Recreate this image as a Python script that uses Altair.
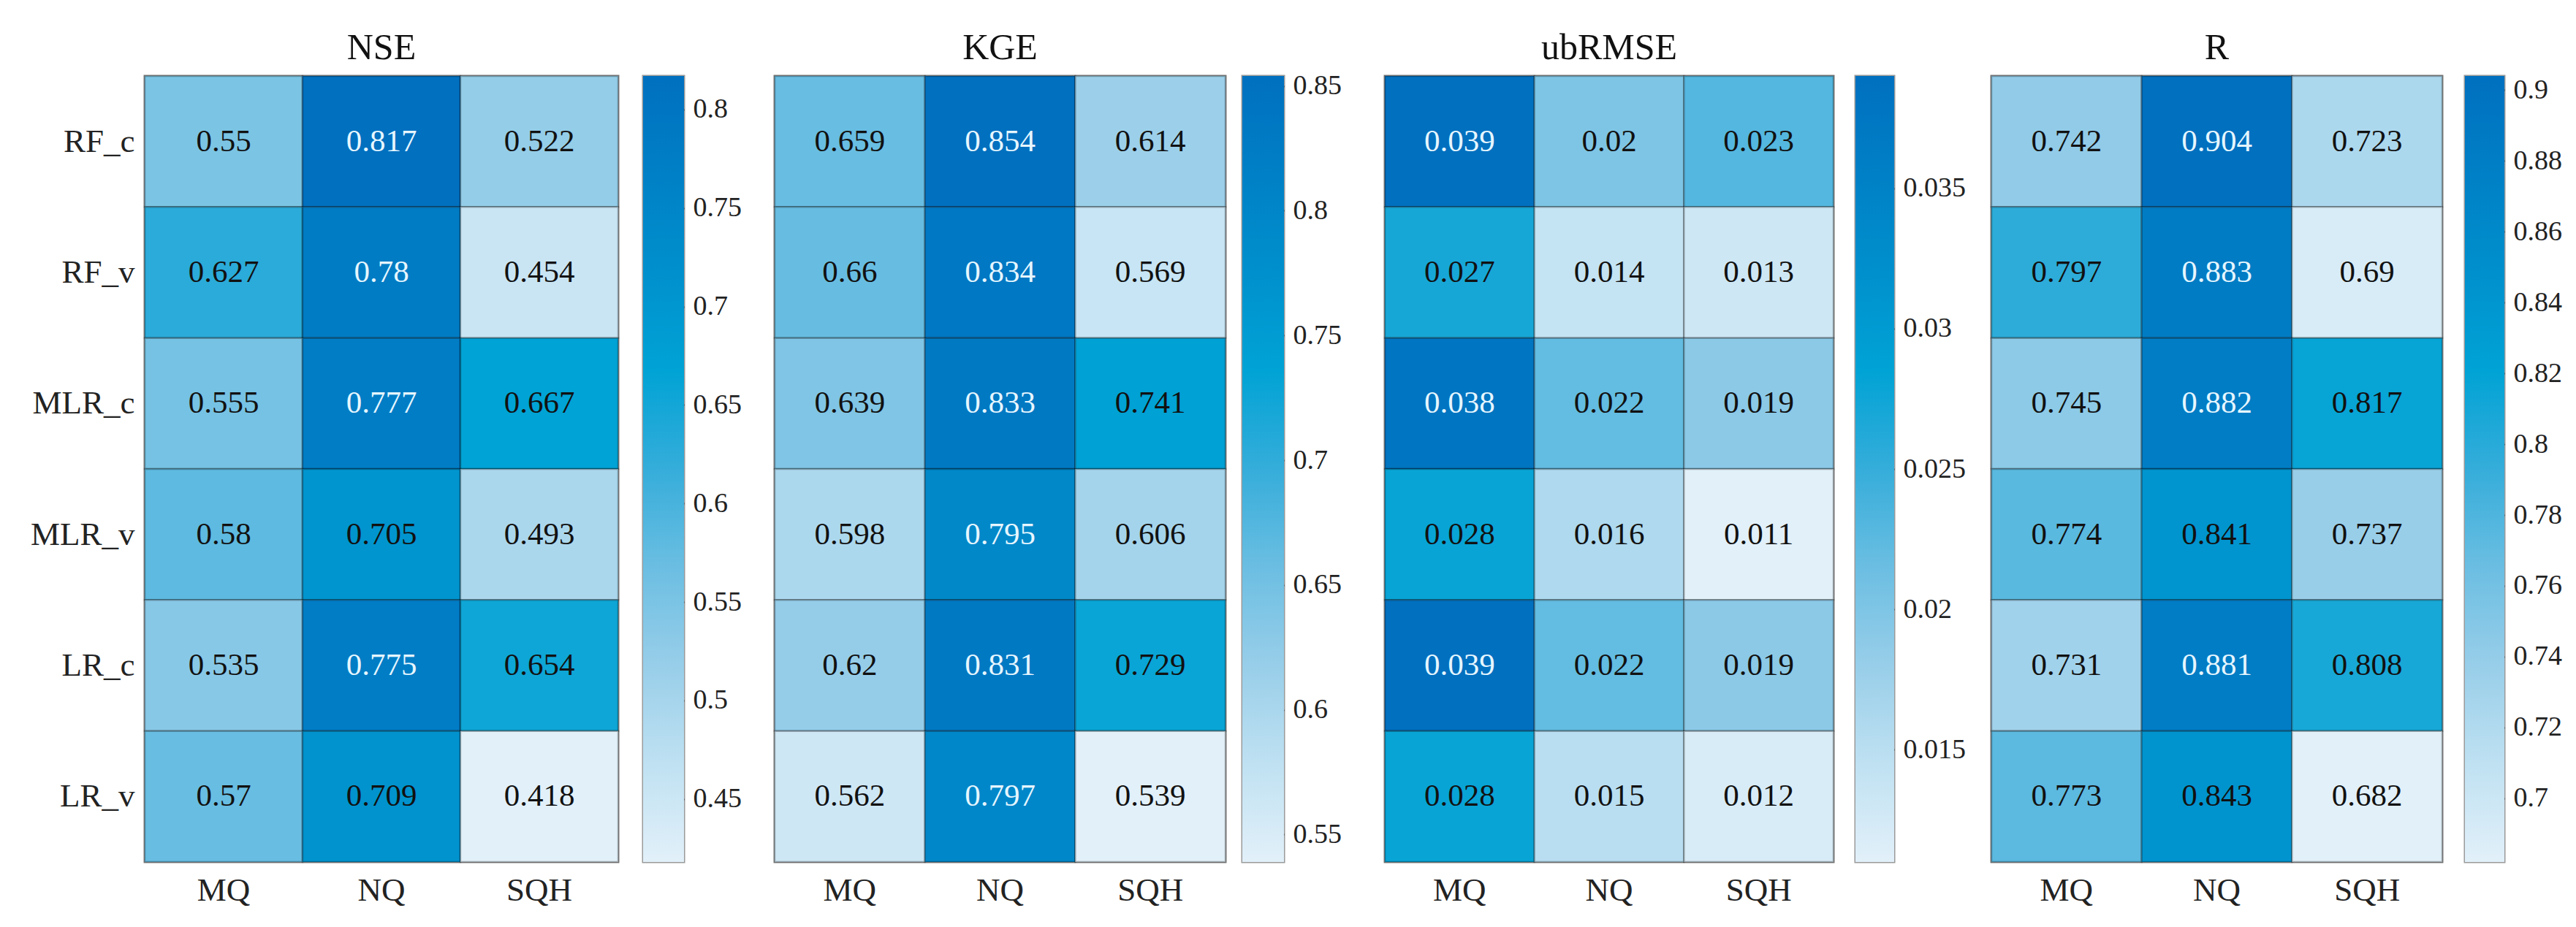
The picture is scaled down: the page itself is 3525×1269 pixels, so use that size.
import altair as alt
import pandas as pd

models = ["RF_c", "RF_v", "MLR_c", "MLR_v", "LR_c", "LR_v"]
sites = ["MQ", "NQ", "SQH"]

nse = [[0.55, 0.817, 0.522], [0.627, 0.78, 0.454], [0.555, 0.777, 0.667],
       [0.58, 0.705, 0.493], [0.535, 0.775, 0.654], [0.57, 0.709, 0.418]]
kge = [[0.659, 0.854, 0.614], [0.66, 0.834, 0.569], [0.639, 0.833, 0.741],
       [0.598, 0.795, 0.606], [0.62, 0.831, 0.729], [0.562, 0.797, 0.539]]
ubrmse = [[0.039, 0.02, 0.023], [0.027, 0.014, 0.013], [0.038, 0.022, 0.019],
          [0.028, 0.016, 0.011], [0.039, 0.022, 0.019], [0.028, 0.015, 0.012]]
r_vals = [[0.742, 0.904, 0.723], [0.797, 0.883, 0.69], [0.745, 0.882, 0.817],
          [0.774, 0.841, 0.737], [0.731, 0.881, 0.808], [0.773, 0.843, 0.682]]

titles = ["NSE", "KGE", "ubRMSE", "R"]
tables = [nse, kge, ubrmse, r_vals]
cb_ticks = [
    [0.45, 0.5, 0.55, 0.6, 0.65, 0.7, 0.75, 0.8],
    [0.55, 0.6, 0.65, 0.7, 0.75, 0.8, 0.85],
    [0.015, 0.02, 0.025, 0.03, 0.035],
    [0.7, 0.72, 0.74, 0.76, 0.78, 0.8, 0.82, 0.84, 0.86, 0.88, 0.9],
]
cb_formats = [".2~f", ".2~f", ".3~f", ".2~f"]

# colormap (light -> dark), evenly spaced stops
CMAP = ["#E2F0F9", "#BFE1F2", "#98CEE9", "#6BBEE2", "#35ADDA",
        "#00A3D5", "#0090CD", "#0080C6", "#0070BF"]

FONT = "Liberation Serif"
H = 1076
hm_widths = [648, 617, 614, 617]
cb_gaps = [29, 18, 25, 26]
cb_widths = [56, 57, 53, 54]
cb_extents = [119, 133, 128, 90]
OUTER = 10


def panel(i):
    tbl = tables[i]
    rows = []
    for mi, m in enumerate(models):
        for si, s in enumerate(sites):
            rows.append({"model": m, "site": s, "v": tbl[mi][si]})
    df = pd.DataFrame(rows)
    flat = [v for row in tbl for v in row]
    mn, mx = min(flat), max(flat)
    scale = alt.Scale(domain=[mn, mx], range=CMAP, interpolate="rgb")

    yaxis = None
    if i == 0:
        yaxis = alt.Axis(labelFontSize=45, labelFont=FONT, labelColor="#222",
                         ticks=False, domain=False, labelPadding=14,
                         minExtent=188, maxExtent=188)
    base = alt.Chart(df).encode(
        x=alt.X("site:N", sort=sites, title=None,
                axis=alt.Axis(labelAngle=0, labelFontSize=45, labelFont=FONT,
                              labelColor="#222", ticks=False, domain=False,
                              labelPadding=16)),
        y=alt.Y("model:N", sort=models, title=None, axis=yaxis),
    )
    rects = base.mark_rect(stroke="#000", strokeOpacity=0.28, strokeWidth=2.5).encode(
        color=alt.Color("v:Q", scale=scale, legend=None)
    )
    texts = base.transform_calculate(
        t=f"(datum.v - {mn}) / ({mx} - {mn})"
    ).mark_text(font=FONT, fontSize=43).encode(
        text=alt.Text("v:Q", format=".3~f"),
        color=alt.condition("datum.t > 0.77", alt.value("#E6F6FF"), alt.value("#111111")),
    )
    hm = alt.layer(rects, texts).resolve_scale(color="independent").properties(
        width=hm_widths[i], height=H,
        title=alt.TitleParams(titles[i], fontSize=50, font=FONT, fontWeight="normal",
                              color="#111", offset=12, anchor="middle"),
    )

    grad = alt.Gradient(
        gradient="linear",
        stops=[alt.GradientStop(color=c, offset=k / (len(CMAP) - 1)) for k, c in enumerate(CMAP)],
        x1=0, x2=0, y1=1, y2=0,
    )
    cb_df = pd.DataFrame([{"lo": mn, "hi": mx}])
    cb = alt.Chart(cb_df).mark_rect(fill=grad).encode(
        x=alt.value(0), x2=alt.value(cb_widths[i]),
        y=alt.Y("lo:Q", scale=alt.Scale(domain=[mn, mx], nice=False, zero=False),
                title=None,
                axis=alt.Axis(orient="right", values=cb_ticks[i], format=cb_formats[i],
                              labelFont=FONT, labelFontSize=38, labelColor="#222",
                              tickSize=10, tickColor="#333", tickWidth=2,
                              offset=-10, domain=False, grid=False, labelPadding=12,
                              labelFlush=False,
                              minExtent=cb_extents[i], maxExtent=cb_extents[i])),
        y2="hi:Q",
    ).properties(
        width=cb_widths[i], height=H,
        title=alt.TitleParams(" ", fontSize=50, font=FONT, offset=12),
    )
    return alt.hconcat(hm, cb, spacing=cb_gaps[i]).resolve_scale(color="independent", y="independent")


chart = alt.hconcat(*[panel(i) for i in range(4)], spacing=OUTER).resolve_scale(
    color="independent", y="independent", x="independent"
).properties(
    padding={"left": 0, "top": 27, "right": 0, "bottom": 5},
    background="white",
).configure_view(stroke="#9a9a9a", strokeWidth=3)

chart.save("out.html", embed_options={"renderer": "svg", "actions": False})
